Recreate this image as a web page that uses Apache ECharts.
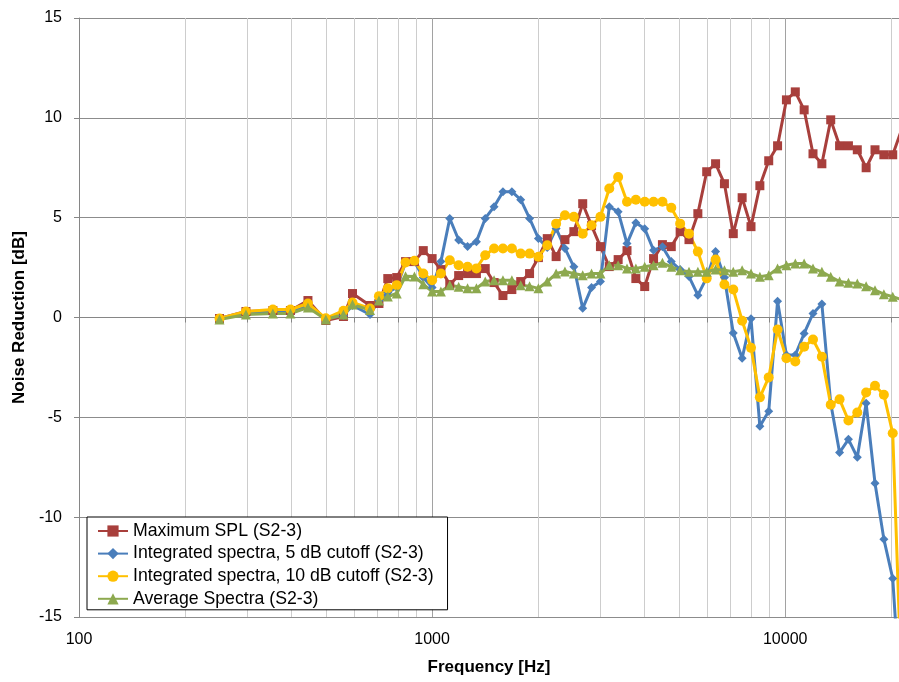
<!DOCTYPE html>
<html><head><meta charset="utf-8">
<script src="https://cdn.jsdelivr.net/npm/echarts@6/dist/echarts.min.js"></script>
<style>html,body{margin:0;padding:0;background:#fff}#c{width:899px;height:682px}</style>
</head><body><div id="c"></div>
<script>
// Frequencies (Hz) of the data points
const freqs = [250, 297, 354, 397, 445, 500, 561, 595, 667, 707, 749, 794, 841, 891, 944, 1000,
  1059, 1122, 1189, 1260, 1335, 1414, 1498, 1587, 1682, 1782, 1888, 2000,
  2119, 2245, 2378, 2520, 2670, 2828, 2997, 3175, 3364, 3564, 3776, 4000,
  4238, 4490, 4757, 5040, 5339, 5657, 5993, 6350, 6727, 7127, 7551, 8000,
  8476, 8980, 9514, 10079, 10679, 11314, 11986, 12699, 13454, 14254, 15102, 16000,
  16951, 17959, 19027, 20159, 21357];

const maxSPL = [-0.05, 0.3, 0.35, 0.35, 0.85, -0.15, 0.05, 1.2, 0.6, 0.7, 1.95, 2.0, 2.8, 2.8, 3.35, 2.95,
  2.4, 1.65, 2.1, 2.2, 2.2, 2.45, 1.75, 1.1, 1.4, 1.8, 2.2, 3.0,
  3.95, 3.05, 3.9, 4.3, 5.7, 4.6, 3.55, 2.55, 2.9, 3.35, 1.95, 1.55,
  2.95, 3.65, 3.55, 4.3, 3.9, 5.2, 7.3, 7.7, 6.7, 4.2, 6.0, 4.55,
  6.6, 7.85, 8.6, 10.9, 11.3, 10.4, 8.2, 7.7, 9.9, 8.6, 8.6, 8.4,
  7.5, 8.4, 8.15, 8.15, 9.4];

const int5dB = [-0.05, 0.25, 0.3, 0.3, 0.6, -0.05, 0.1, 0.6, 0.15, 0.85, 1.25, 1.5, 2.75, 2.8, 2.0, 1.5,
  2.8, 4.96, 3.88, 3.55, 3.8, 4.96, 5.55, 6.3, 6.3, 5.9, 4.96, 3.96,
  3.5, 4.46, 3.46, 2.54, 0.46, 1.5, 1.8, 5.55, 5.3, 3.7, 4.75, 4.45,
  3.37, 3.54, 2.8, 2.4, 2.05, 1.12, 2.0, 3.3, 2.0, -0.78, -2.04, -0.06,
  -5.45, -4.7, 0.82, -1.88, -1.88, -0.8, 0.2, 0.68, -4.3, -6.76, -6.1, -7.0,
  -4.3, -8.3, -11.1, -13.07, -20.0];

const int10dB = [-0.05, 0.3, 0.4, 0.4, 0.7, -0.04, 0.34, 0.75, 0.45, 1.07, 1.46, 1.62, 2.76, 2.84, 2.2, 1.87,
  2.2, 2.87, 2.62, 2.54, 2.46, 3.12, 3.46, 3.46, 3.46, 3.2, 3.2, 3.04,
  3.62, 4.7, 5.12, 5.04, 4.2, 4.62, 5.04, 6.46, 7.04, 5.8, 5.9, 5.8,
  5.8, 5.8, 5.5, 4.7, 4.2, 3.3, 1.96, 2.9, 1.65, 1.4, -0.16, -1.52,
  -4.0, -3.0, -0.6, -2.04, -2.2, -1.46, -1.1, -1.96, -4.37, -4.1, -5.16, -4.76,
  -3.76, -3.42, -3.87, -5.8, -18.5];

const avgSpectra = [-0.1, 0.15, 0.2, 0.2, 0.5, -0.1, 0.15, 0.65, 0.37, 0.85, 1.05, 1.2, 2.07, 2.05, 1.67, 1.3,
  1.3, 1.62, 1.54, 1.46, 1.46, 1.8, 1.87, 1.87, 1.87, 1.62, 1.57, 1.46,
  1.8, 2.2, 2.3, 2.2, 2.12, 2.2, 2.2, 2.62, 2.62, 2.46, 2.46, 2.54,
  2.62, 2.74, 2.54, 2.37, 2.29, 2.29, 2.29, 2.4, 2.37, 2.29, 2.37, 2.2,
  2.04, 2.12, 2.46, 2.62, 2.7, 2.7, 2.46, 2.29, 2.04, 1.8, 1.74, 1.7,
  1.57, 1.37, 1.17, 1.04, 0.9];

const seriesNames = ['Maximum SPL (S2-3)', 'Integrated spectra, 5 dB cutoff (S2-3)',
  'Integrated spectra, 10 dB cutoff (S2-3)', 'Average Spectra (S2-3)'];

const xGridValues = [100, 200, 300, 400, 500, 600, 700, 800, 900,
  1000, 2000, 3000, 4000, 5000, 6000, 7000, 8000, 9000, 10000, 20000];
const xLabelValues = [100, 1000, 10000];
const xMin = 100, xMax = 21000;
const yMin = -15, yMax = 15, yStep = 5;

const MAJOR = '#8c8c8c', VMAJOR = '#a2a2a2', MINOR = '#cdcdcd';
const gridColors = xGridValues.map(v => (xLabelValues.indexOf(v) >= 0 ? VMAJOR : MINOR));

const pairs = arr => freqs.map((f, i) => [f, arr[i]]);
const FONT = 'Liberation Sans';

const styles = [
  { color: '#A83F3C', symbol: 'rect', size: 9 },
  { color: '#4A7EBB', symbol: 'diamond', size: 9 },
  { color: '#FFC000', symbol: 'circle', size: 10 },
  { color: '#8DA94F', symbol: 'triangle', size: 10 }
];
const dataSets = [maxSPL, int5dB, int10dB, avgSpectra];

const chart = echarts.init(document.getElementById('c'), null, { renderer: 'canvas' });
chart.setOption({
  animation: false,
  backgroundColor: '#fff',
  textStyle: { fontFamily: FONT },
  grid: { left: 79, right: 0, top: 18, bottom: 65, containLabel: false },
  legend: {
    orient: 'vertical', left: 87, top: 517,
    backgroundColor: '#fff', borderColor: '#000', borderWidth: 1,
    padding: [5, 14, 2, 10], itemGap: 4.6, itemWidth: 30, itemHeight: 14,
    textStyle: { fontFamily: FONT, fontSize: 17.7, color: '#000' },
    data: seriesNames
  },
  xAxis: {
    type: 'log', logBase: 10, min: xMin, max: xMax,
    name: 'Frequency [Hz]', nameLocation: 'middle', nameGap: 42,
    nameTextStyle: { fontFamily: FONT, fontSize: 17, fontWeight: 'bold', color: '#000' },
    axisLine: { show: true, lineStyle: { color: '#868686', width: 1 } },
    axisTick: { show: true, customValues: xGridValues, length: 5, lineStyle: { color: '#868686' } },
    axisLabel: { customValues: xLabelValues, formatter: v => String(Math.round(v)),
      fontFamily: FONT, fontSize: 16, color: '#000', margin: 15 },
    splitLine: { show: true, lineStyle: { color: gridColors, width: 1 } },
    minorTick: { show: false }
  },
  yAxis: {
    type: 'value', min: yMin, max: yMax, interval: yStep,
    name: 'Noise Reduction [dB]', nameLocation: 'middle', nameGap: 50,
    nameTextStyle: { fontFamily: FONT, fontSize: 17, fontWeight: 'bold', color: '#000' },
    axisLine: { show: true, lineStyle: { color: '#868686', width: 1 } },
    axisTick: { show: true, length: 5, lineStyle: { color: '#868686' } },
    axisLabel: { fontFamily: FONT, fontSize: 16, color: '#000', margin: 17 },
    splitLine: { show: true, lineStyle: { color: MAJOR, width: 1 } }
  },
  series: seriesNames.map((name, i) => ({
    name, type: 'line', data: pairs(dataSets[i]),
    symbol: styles[i].symbol, symbolSize: styles[i].size, showSymbol: true,
    color: styles[i].color,
    itemStyle: { color: styles[i].color },
    lineStyle: { color: styles[i].color, width: 3 },
    emphasis: { disabled: true }, clip: true
  }))
});
</script>
</body></html>
